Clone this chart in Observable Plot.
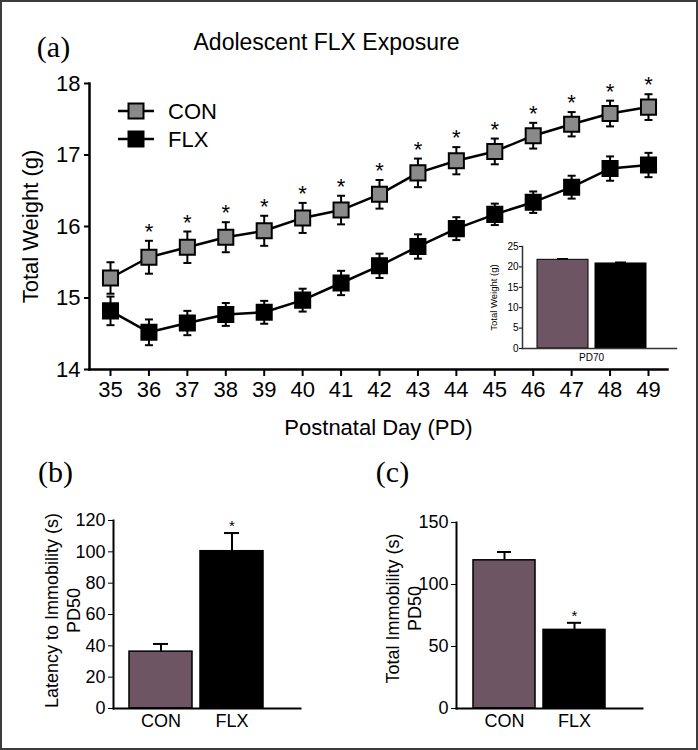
<!DOCTYPE html>
<html><head><meta charset="utf-8">
<script src="https://cdn.jsdelivr.net/npm/d3@7"></script>
<script src="https://cdn.jsdelivr.net/npm/@observablehq/plot@0.6"></script>
<style>
body{margin:0;background:#fff;}
#fig{position:relative;width:698px;height:750px;background:#fff;font-family:"Liberation Sans",Arial,sans-serif;overflow:hidden}
#fig svg{position:absolute;overflow:visible;background:transparent}
#border{position:absolute;left:0;top:0;width:698px;height:750px;box-sizing:border-box;border:2px solid #3c3c3c;}
</style></head><body><div id="fig"><div id="border"></div></div>
<script>
// ---- data ----
const days = [35,36,37,38,39,40,41,42,43,44,45,46,47,48,49];
const conMean = [15.28,15.57,15.71,15.85,15.94,16.12,16.23,16.45,16.75,16.92,17.05,17.27,17.43,17.58,17.67];
const conSE   = [0.22,0.23,0.22,0.21,0.21,0.21,0.20,0.20,0.20,0.19,0.18,0.18,0.17,0.18,0.18];
const flxMean = [14.82,14.52,14.65,14.77,14.80,14.97,15.21,15.45,15.72,15.97,16.17,16.34,16.55,16.81,16.86];
const flxSE   = [0.20,0.18,0.17,0.16,0.16,0.16,0.17,0.17,0.17,0.16,0.15,0.15,0.16,0.17,0.17];
const sigDays = [36,37,38,39,40,41,42,43,44,45,46,47,48,49];
const weightTicks = [14,15,16,17,18];
const groups = ["CON","FLX"];
const pd70Mean = [21.74,20.84];
const pd70SE = [0.25,0.3];
const pd70Ticks = [0,5,10,15,20,25];
const latencyMean = [36.3,100.4];
const latencySE = [4.9,11.6];
const latencySig = ["FLX"];
const latencyTicks = [0,20,40,60,80,100,120];
const immobMean = [119.5,63.4];
const immobSE = [6.7,5.7];
const immobSig = ["FLX"];
const immobTicks = [0,50,100,150];

// ---- styles ----
const FONT = "'Liberation Sans', Arial, Helvetica, sans-serif";
const SERIF = "'Liberation Serif', 'Times New Roman', serif";
const CON_GRAY = "#8a8a8a";
const BAR_PURPLE = "#6e5563";
const fig = document.getElementById("fig");
function place(svg, left, top){ svg.style.left = left+"px"; svg.style.top = top+"px"; fig.appendChild(svg); }

const hline = {draw(ctx, size){ const r = Math.sqrt(size/Math.PI); ctx.moveTo(-r,0); ctx.lineTo(r,0); }};
const intFmt = d => String(d);

// ---- panel (a) ----
const con = days.map((d,i)=>({day:d, group:"CON", mean:conMean[i], se:conSE[i]}));
const flx = days.map((d,i)=>({day:d, group:"FLX", mean:flxMean[i], se:flxSE[i]}));
const series = con.concat(flx);
const A = Plot.plot({
  width:698, height:450, marginLeft:89, marginRight:31, marginTop:83, marginBottom:81,
  style:{fontFamily:FONT, color:"#000", background:"transparent", overflow:"visible"},
  x:{domain:[35,49], range:[110,648]},
  y:{domain:[14,18]},
  marks:[
    Plot.ruleX(series, {x:"day", y1:d=>d.mean-d.se, y2:d=>d.mean+d.se, stroke:"#000", strokeWidth:2}),
    Plot.dot(series, {x:"day", y:d=>d.mean-d.se, symbol:hline, r:4, fill:"none", stroke:"#000", strokeWidth:2}),
    Plot.dot(series, {x:"day", y:d=>d.mean+d.se, symbol:hline, r:4, fill:"none", stroke:"#000", strokeWidth:2}),
    Plot.line(series, {x:"day", y:"mean", z:"group", stroke:"#000", strokeWidth:2.5}),
    Plot.dot(con, {x:"day", y:"mean", symbol:"square", r:8.5, fill:CON_GRAY, stroke:"#000", strokeWidth:2}),
    Plot.dot(flx, {x:"day", y:"mean", symbol:"square", r:8.5, fill:"#000", stroke:"#000", strokeWidth:2}),
    Plot.text(con.filter(d=>sigDays.includes(d.day)), {x:"day", y:d=>d.mean+d.se, text:()=>"*", dy:-9, fontSize:22, lineAnchor:"middle"}),
    Plot.axisX({ticks:days, tickFormat:intFmt, tickSize:7, tickPadding:5, fontSize:22, strokeWidth:2, label:null}),
    Plot.axisY({ticks:weightTicks, tickFormat:intFmt, tickSize:5, tickPadding:4, fontSize:22, strokeWidth:2, label:null}),
    Plot.frame({anchor:"left", strokeWidth:2.5}),
    Plot.frame({anchor:"bottom", strokeWidth:2.5}),
    Plot.text(["Total Weight (g)"], {frameAnchor:"left", dx:-59, rotate:-90, fontSize:22, textAnchor:"middle", lineAnchor:"middle"}),
    Plot.text(["Postnatal Day (PD)"], {frameAnchor:"bottom", dy:58, fontSize:22, textAnchor:"middle", lineAnchor:"middle"}),
    Plot.text(["Adolescent FLX Exposure"], {frameAnchor:"top", dx:-52, dy:-41, fontSize:23, textAnchor:"middle", lineAnchor:"middle"}),
    Plot.text(["(a)"], {frameAnchor:"top-left", dx:-36, dy:-36, fontSize:30, fontFamily:SERIF, textAnchor:"middle", lineAnchor:"middle"})
  ]
});
place(A, 0, 0);

// legend (a)
const legNS = "http://www.w3.org/2000/svg";
const leg = document.createElementNS(legNS, "svg");
leg.setAttribute("width", 120); leg.setAttribute("height", 60);
leg.innerHTML = groups.map((g,i)=>{
  const y = 15 + i*28;
  const fill = g==="CON" ? CON_GRAY : "#000";
  return `<line x1="8" x2="44" y1="${y}" y2="${y}" stroke="#000" stroke-width="2.5"/>
  <rect x="18.5" y="${y-7.5}" width="15" height="15" fill="${fill}" stroke="#000" stroke-width="2"/>
  <text x="58" y="${y}" dy="0.36em" font-size="22" font-family="${FONT}">${g}</text>`;
}).join("");
place(leg, 110, 96);

// ---- inset (PD70) ----
const pd70 = groups.map((g,i)=>({group:g, mean:pd70Mean[i], se:pd70SE[i]}));
const inset = Plot.plot({
  width:250, height:140, marginLeft:82, marginRight:14, marginTop:16, marginBottom:22,
  style:{fontFamily:FONT, color:"#000", background:"transparent", overflow:"visible"},
  x:{type:"band", domain:groups, range:[96,205.7], paddingInner:0.126, paddingOuter:0, axis:null},
  y:{domain:[0,25]},
  color:{domain:groups, range:[BAR_PURPLE,"#000"]},
  marks:[
    Plot.barY(pd70, {x:"group", y:"mean", fill:"group", stroke:"#000", strokeWidth:1}),
    Plot.ruleX(pd70, {x:"group", y1:"mean", y2:d=>d.mean+d.se, strokeWidth:1}),
    Plot.tickY(pd70, {x:"group", y:d=>d.mean+d.se, insetLeft:20, insetRight:20, strokeWidth:1.5}),
    Plot.axisY({ticks:pd70Ticks, tickFormat:intFmt, tickSize:3, tickPadding:1, fontSize:10, label:null}),
    Plot.frame({anchor:"left", strokeWidth:1.5, stroke:"#333"}),
    Plot.frame({anchor:"bottom", strokeWidth:1.5, stroke:"#333"}),
    Plot.text(["PD70"], {frameAnchor:"bottom", dx:-8, dy:9.5, fontSize:10, textAnchor:"middle", lineAnchor:"middle"}),
    Plot.text(["Total Weight (g)"], {frameAnchor:"left", dx:-29, rotate:-90, fontSize:9.5, textAnchor:"middle", lineAnchor:"middle"})
  ]
});
place(inset, 440, 230);

// ---- bar panels ----
function barPanel({means, ses, sig, ticks, yMax, label, tag, width, height, margins, xRange, pad, tagD, labelD}){
  const data = groups.map((g,i)=>({group:g, mean:means[i], se:ses[i], sig:sig.includes(g)}));
  return Plot.plot({
    width, height, ...margins,
    style:{fontFamily:FONT, color:"#000", background:"transparent", overflow:"visible"},
    x:{type:"band", domain:groups, range:xRange, paddingInner:pad, paddingOuter:0},
    y:{domain:[0,yMax]},
    color:{domain:groups, range:[BAR_PURPLE,"#000"]},
    marks:[
      Plot.barY(data, {x:"group", y:"mean", fill:"group", stroke:"#000", strokeWidth:1.5}),
      Plot.ruleX(data, {x:"group", y1:"mean", y2:d=>d.mean+d.se, strokeWidth:2}),
      Plot.tickY(data, {x:"group", y:d=>d.mean+d.se, insetLeft:24, insetRight:24, strokeWidth:2}),
      Plot.text(data.filter(d=>d.sig), {x:"group", y:d=>d.mean+d.se, text:()=>"*", dy:-7, fontSize:15, lineAnchor:"middle"}),
      Plot.axisY({ticks, tickFormat:intFmt, tickSize:5, tickPadding:3, fontSize:18, label:null}),
      Plot.axisX({tickSize:0, tickPadding:6, fontSize:18, label:null}),
      Plot.frame({anchor:"left", strokeWidth:2}),
      Plot.frame({anchor:"bottom", strokeWidth:2}),
      Plot.text([label], {frameAnchor:"left", dx:labelD[0], dy:labelD[1], rotate:-90, fontSize:18, lineHeight:1.22, textAnchor:"middle", lineAnchor:"middle"}),
      Plot.text([tag], {frameAnchor:"top-left", dx:tagD[0], dy:tagD[1], fontSize:30, fontFamily:SERIF, textAnchor:"middle", lineAnchor:"middle"})
    ]
  });
}
const B = barPanel({means:latencyMean, ses:latencySE, sig:latencySig, ticks:latencyTicks, yMax:120,
  label:"Latency to Immobility (s)\nPD50", tag:"(b)", width:349, height:300,
  margins:{marginLeft:113, marginRight:49, marginTop:70, marginBottom:42},
  xRange:[128.3,264], pad:0.115, tagD:[-58,-48], labelD:[-52,-4]});
place(B, 0, 450);
const C = barPanel({means:immobMean, ses:immobSE, sig:immobSig, ticks:immobTicks, yMax:150,
  label:"Total Immobility (s)\nPD50", tag:"(c)", width:349, height:300,
  margins:{marginLeft:107, marginRight:56, marginTop:72, marginBottom:42},
  xRange:[122.7,256.7], pad:0.109, tagD:[-64,-50], labelD:[-54,-7]});
place(C, 349, 450);
</script></body></html>
